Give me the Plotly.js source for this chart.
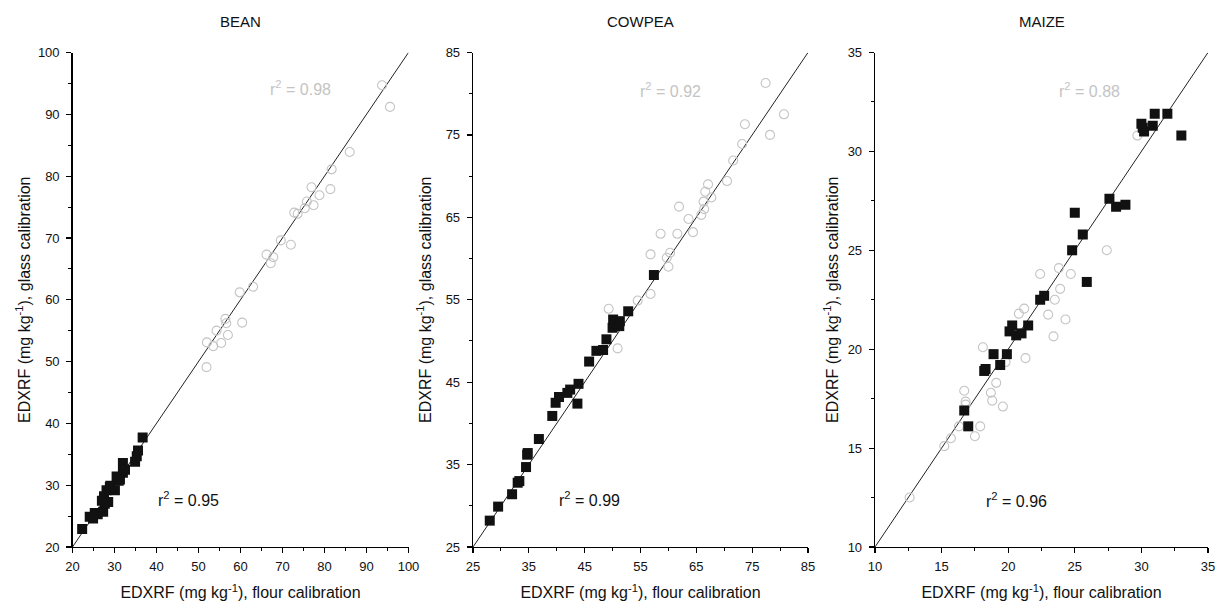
<!DOCTYPE html>
<html>
<head>
<meta charset="utf-8">
<script src="https://cdn.plot.ly/plotly-3.0.1.min.js"></script>
<style>html,body{margin:0;padding:0;background:#fff;}#chart{width:1229px;height:606px;}</style>
</head>
<body>
<div id="chart"></div>
<script>
// ---- data (flour calibration x, glass calibration y) ----
const panelTitles = ["BEAN", "COWPEA", "MAIZE"];
const r2Filled = ["0.95", "0.99", "0.96"];
const r2Open = ["0.98", "0.92", "0.88"];

const beanFilledX = [22.3, 24.1, 24.9, 25.3, 26.0, 27.3, 27.7, 27.5, 28.1, 28.9, 30.1, 30.5, 31.3, 32.0, 32.0, 32.5, 34.9, 35.3, 35.6, 36.7, 27.0, 28.5, 29.0, 31.0];
const beanFilledY = [22.9, 24.9, 24.6, 25.5, 25.3, 25.7, 27.0, 28.2, 29.2, 29.7, 29.2, 31.4, 30.9, 32.0, 33.6, 32.5, 33.8, 34.7, 35.6, 37.7, 27.5, 27.3, 29.9, 30.7];
const beanOpenX = [51.9, 52.0, 53.5, 55.4, 54.3, 57.0, 56.4, 56.6, 60.4, 59.8, 63.0, 66.2, 67.8, 67.2, 69.6, 72.0, 72.8, 73.6, 75.3, 75.8, 77.4, 78.8, 76.9, 81.4, 81.7, 86.0, 93.7, 95.6];
const beanOpenY = [49.1, 53.1, 52.5, 53.0, 55.0, 54.3, 56.9, 56.2, 56.3, 61.2, 62.1, 67.3, 66.9, 65.9, 69.6, 68.9, 74.1, 73.9, 74.8, 75.9, 75.3, 76.9, 78.2, 77.9, 81.1, 83.9, 94.7, 91.2];

const cowpeaFilledX = [28.0, 29.5, 32.0, 33.0, 33.3, 34.5, 34.7, 34.8, 36.8, 39.2, 39.8, 40.4, 41.9, 42.4, 43.9, 43.7, 45.8, 47.1, 48.3, 48.9, 50.0, 50.1, 51.2, 51.3, 52.8, 57.4];
const cowpeaFilledY = [28.2, 29.9, 31.4, 32.8, 33.0, 34.7, 36.2, 36.4, 38.1, 40.9, 42.5, 43.2, 43.7, 44.1, 44.8, 42.4, 47.5, 48.8, 48.9, 50.2, 51.6, 52.6, 51.8, 52.4, 53.6, 58.0];
const cowpeaOpenX = [49.3, 50.9, 54.5, 56.8, 56.8, 59.7, 60.0, 60.3, 58.6, 61.6, 64.4, 61.9, 63.6, 65.9, 66.4, 66.3, 67.7, 66.6, 67.1, 70.5, 71.6, 73.2, 73.7, 78.2, 80.7, 77.4];
const cowpeaOpenY = [53.9, 49.1, 54.9, 55.7, 60.5, 60.1, 59.0, 60.7, 63.0, 63.0, 63.2, 66.3, 64.8, 65.3, 66.0, 66.9, 67.4, 68.1, 69.0, 69.4, 71.9, 73.9, 76.3, 75.0, 77.5, 81.3];

const maizeFilledX = [16.7, 17.0, 18.2, 18.3, 18.9, 19.4, 19.9, 20.1, 20.3, 20.6, 21.0, 21.5, 22.4, 22.7, 24.8, 25.0, 25.6, 25.9, 27.6, 28.1, 28.8, 30.0, 30.1, 30.2, 30.85, 31.0, 31.95, 33.0];
const maizeFilledY = [16.9, 16.1, 18.9, 19.0, 19.75, 19.2, 19.75, 20.9, 21.2, 20.7, 20.8, 21.2, 22.5, 22.7, 25.0, 26.9, 25.8, 23.4, 27.6, 27.2, 27.3, 31.4, 31.2, 31.0, 31.3, 31.9, 31.9, 30.8];
const maizeOpenX = [12.6, 15.2, 15.7, 16.3, 16.7, 16.8, 16.8, 17.5, 17.9, 18.1, 18.7, 18.8, 19.1, 19.6, 19.8, 20.8, 21.2, 21.3, 22.4, 23.0, 23.4, 23.5, 23.8, 23.9, 24.3, 24.7, 27.4, 29.7];
const maizeOpenY = [12.5, 15.1, 15.5, 16.1, 17.9, 17.35, 17.2, 15.6, 16.1, 20.1, 17.8, 17.4, 18.3, 17.1, 19.35, 21.8, 22.05, 19.55, 23.8, 21.75, 20.65, 22.5, 24.1, 23.05, 21.5, 23.8, 25.0, 30.8];

const axisRanges = [[20, 100], [25, 85], [10, 35]];
const majorSteps = [10, 10, 5];
const minorSteps = [5, 5, 2.5];

// ---- build ----
const FONT = "'Liberation Sans', Arial, sans-serif";
const W = 1229, H = 606;
const xPix = [[72.5, 408.5], [473, 808], [875, 1208]];
const yPix = [547, 52.5];
const yTitleStandoff = [3, 10, 5];
const openColor = "#c4c4c4";

const sets = [
  [beanFilledX, beanFilledY, beanOpenX, beanOpenY],
  [cowpeaFilledX, cowpeaFilledY, cowpeaOpenX, cowpeaOpenY],
  [maizeFilledX, maizeFilledY, maizeOpenX, maizeOpenY]
];
const r2Pos = [
  {open: [74.4, 94.2], filled: [47.5, 27.8]},
  {open: [60.4, 80.4], filled: [45.8, 30.8]},
  {open: [26.1, 33.1], filled: [20.6, 12.4]}
];

const traces = [];
const layout = {
  width: W, height: H,
  margin: {l: 0, r: 0, t: 0, b: 0},
  paper_bgcolor: "#fff", plot_bgcolor: "#fff",
  showlegend: false,
  font: {family: FONT, size: 13, color: "#000"},
  annotations: []
};

for (let i = 0; i < 3; i++) {
  const s = i === 0 ? "" : String(i + 1);
  const xa = "x" + s, ya = "y" + s;
  const [fx, fy, ox, oy] = sets[i];
  const rng = axisRanges[i];
  traces.push({
    x: rng, y: rng, xaxis: xa, yaxis: ya, mode: "lines",
    line: {color: "#222", width: 1}, hoverinfo: "skip"
  });
  traces.push({
    x: ox, y: oy, xaxis: xa, yaxis: ya, mode: "markers",
    marker: {symbol: "circle-open", size: 9, color: openColor, line: {width: 1.1, color: openColor}}
  });
  traces.push({
    x: fx, y: fy, xaxis: xa, yaxis: ya, mode: "markers",
    marker: {symbol: "square", size: 10, color: "#111", line: {width: 0}}
  });

  const common = {
    range: rng, tickmode: "linear", tick0: rng[0], dtick: majorSteps[i],
    showline: true, linecolor: "#000", linewidth: 1.3,
    ticks: "outside", ticklen: 5, tickwidth: 1.2, tickcolor: "#000",
    minor: {dtick: minorSteps[i], tick0: rng[0], ticks: "outside", ticklen: 3, tickwidth: 1, tickcolor: "#000", showgrid: false},
    showgrid: false, zeroline: false, mirror: false, fixedrange: true,
    tickfont: {family: FONT, size: 13, color: "#111"}
  };
  layout["xaxis" + s] = Object.assign({}, common, {
    domain: [xPix[i][0] / W, xPix[i][1] / W],
    anchor: ya,
    ticklabelstandoff: 2,
    title: {text: "EDXRF (mg kg<sup>-1</sup>), flour calibration", font: {family: FONT, size: 16, color: "#111"}, standoff: 14}
  });
  layout["yaxis" + s] = Object.assign({}, common, {
    domain: [1 - yPix[0] / H, 1 - yPix[1] / H],
    anchor: xa,
    ticklabelstandoff: 4,
    title: {text: "EDXRF (mg kg<sup>-1</sup>), glass calibration", font: {family: FONT, size: 16, color: "#111"}, standoff: yTitleStandoff[i]}
  });

  layout.annotations.push({
    text: panelTitles[i], xref: xa + " domain", yref: "paper",
    x: 0.5, y: 1 - 22 / H, xanchor: "center", yanchor: "middle",
    showarrow: false, font: {family: FONT, size: 15, color: "#111"}
  });
  layout.annotations.push({
    text: "r<sup>2</sup> = " + r2Open[i], xref: xa, yref: ya,
    x: r2Pos[i].open[0], y: r2Pos[i].open[1], xanchor: "center", yanchor: "middle",
    showarrow: false, font: {family: FONT, size: 16, color: openColor}
  });
  layout.annotations.push({
    text: "r<sup>2</sup> = " + r2Filled[i], xref: xa, yref: ya,
    x: r2Pos[i].filled[0], y: r2Pos[i].filled[1], xanchor: "center", yanchor: "middle",
    showarrow: false, font: {family: FONT, size: 16, color: "#111"}
  });
}

Plotly.newPlot("chart", traces, layout, {displayModeBar: false, staticPlot: true});
</script>
</body>
</html>
